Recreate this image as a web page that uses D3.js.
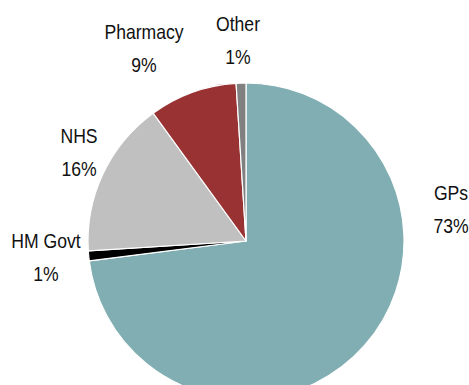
<!DOCTYPE html>
<html>
<head>
<meta charset="utf-8">
<script src="https://cdn.jsdelivr.net/npm/d3@7"></script>
<style>
  html, body { margin: 0; padding: 0; background: #fff; }
  svg { display: block; }
  .lbl { font-family: "Liberation Sans Narrow", "Arial Narrow", "Liberation Sans", Arial, sans-serif; font-size: 20px; fill: #111; }
</style>
</head>
<body>
<svg id="chart" width="469" height="385"></svg>
<script>
// Share of spend by channel (%)
const categories = ["GPs", "HM Govt", "NHS", "Pharmacy", "Other"];
const values = [73, 1, 16, 9, 1];
const colors = ["#80aeb2", "#000000", "#c0c0c0", "#993333", "#808080"];

// Label anchor points: centre x and first-line baseline of each label
const labelAnchors = [[451, 200], [46, 248], [79, 143], [144, 39], [238, 31]];

const width = 469, height = 385;
const cx = 246, cy = 241, radius = 158;
const lineGap = 33;
const squeeze = 0.88; // narrow the sans face to a condensed look

const svg = d3.select("#chart");
const g = svg.append("g").attr("transform", `translate(${cx},${cy})`);

const pie = d3.pie().sort(null).value(d => d.value);
const arc = d3.arc().innerRadius(0).outerRadius(radius);

const data = categories.map((c, i) => ({ name: c, value: values[i], color: colors[i] }));
const arcs = pie(data);

g.selectAll("path.slice")
  .data(arcs)
  .join("path")
  .attr("class", "slice")
  .attr("d", arc)
  .attr("fill", d => d.data.color)
  .attr("stroke", "#fff")
  .attr("stroke-width", 1.2)
  .attr("stroke-linejoin", "round");

const total = d3.sum(values);
const fmt = v => `${Math.round(v / total * 100)}%`;

const labels = svg.selectAll("g.label")
  .data(arcs)
  .join("g")
  .attr("class", "label")
  .attr("transform", (d, i) => `translate(${labelAnchors[i][0]},${labelAnchors[i][1]}) scale(${squeeze},1)`);

labels.append("text")
  .attr("class", "lbl")
  .attr("text-anchor", "middle")
  .attr("y", 0)
  .text(d => d.data.name);

labels.append("text")
  .attr("class", "lbl")
  .attr("text-anchor", "middle")
  .attr("y", lineGap)
  .text(d => fmt(d.data.value));
</script>
</body>
</html>
